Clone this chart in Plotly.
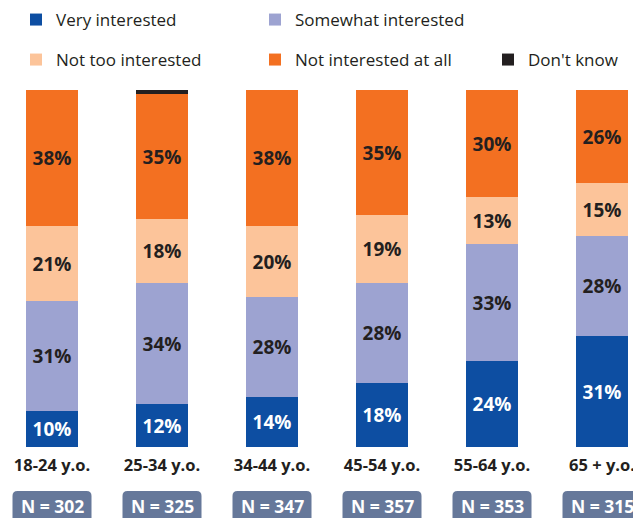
import plotly.graph_objects as go

categories = ["18-24 y.o.", "25-34 y.o.", "34-44 y.o.", "45-54 y.o.", "55-64 y.o.", "65 + y.o."]
sample_sizes = [302, 325, 347, 357, 353, 315]
very_interested = [10, 12, 14, 18, 24, 31]
somewhat_interested = [31, 34, 28, 28, 33, 28]
not_too_interested = [21, 18, 20, 19, 13, 15]
not_interested_at_all = [38, 35, 38, 35, 30, 26]
dont_know = [0, 1, 0, 0, 0, 0]

FONT = "Open Sans"
DARK = "#231F20"

series = [
    ("Very interested", very_interested, "#0D4EA2", "white", "legend"),
    ("Somewhat interested", somewhat_interested, "#9DA3D1", DARK, "legend"),
    ("Not too interested", not_too_interested, "#FCC49A", DARK, "legend2"),
    ("Not interested at all", not_interested_at_all, "#F37021", DARK, "legend2"),
    ("Don't know", dont_know, "#231F20", DARK, "legend3"),
]

fig = go.Figure()
for name, vals, color, tcolor, leg in series:
    show_text = name != "Don't know"
    fig.add_trace(go.Bar(
        x=categories, y=vals, name=name, legend=leg,
        marker=dict(color=color, line=dict(width=0)),
        width=0.47,
        text=[f"{v}%" for v in vals] if show_text else None,
        textposition="inside" if show_text else "none",
        insidetextanchor="middle",
        textangle=0,
        textfont=dict(family=FONT, size=19, color=tcolor, weight="bold"),
        hoverinfo="skip",
    ))

# N boxes (rounded rectangles) below the category labels
px_x = 110.0   # pixels per category unit
px_y = 357.0   # plot height in px
bw = 79 / px_x
y0, y1 = -44 / px_y, -90 / px_y
rx, ry = 5 / px_x, 5 / px_y
for i, n in enumerate(sample_sizes):
    xc = i
    xa, xb = xc - bw / 2, xc + bw / 2
    path = (f"M{xa+rx},{y0} L{xb-rx},{y0} Q{xb},{y0} {xb},{y0-ry} "
            f"L{xb},{y1} L{xa},{y1} L{xa},{y0-ry} Q{xa},{y0} {xa+rx},{y0} Z")
    fig.add_shape(type="path", path=path, xref="x", yref="paper",
                  fillcolor="#66789A", line=dict(width=0), layer="above")
    fig.add_annotation(x=xc, y=-59 / px_y, xref="x", yref="paper",
                       text=f"N = {n}", showarrow=False,
                       font=dict(family=FONT, size=17.5, color="white", weight="bold"),
                       xanchor="center", yanchor="middle")

legend_common = dict(
    orientation="h", xref="container", yref="container",
    xanchor="left", yanchor="middle",
    font=dict(family=FONT, size=17, color=DARK),
    entrywidth=194, entrywidthmode="pixels",
    bgcolor="rgba(0,0,0,0)", traceorder="normal",
    itemclick=False, itemdoubleclick=False,
)

fig.update_layout(
    width=641, height=518,
    margin=dict(l=0, r=0, t=82, b=79, autoexpand=False),
    barmode="stack",
    bargap=0,
    plot_bgcolor="white", paper_bgcolor="white",
    font=dict(family=FONT, color=DARK),
    xaxis=dict(
        range=[-44 / px_x, -44 / px_x + 641 / px_x],
        showgrid=False, zeroline=False, showline=False, ticks="",
        tickfont=dict(family=FONT, size=16.5, color=DARK, weight="bold"),
        ticklabelstandoff=6,
    ),
    yaxis=dict(range=[0, 100], visible=False),
    legend=dict(x=8 / 641, y=1 - 12 / 518, **legend_common),
    legend2=dict(x=8 / 641, y=1 - 52 / 518, **legend_common),
    legend3=dict(x=480 / 641, y=1 - 52 / 518, **legend_common),
    uniformtext=dict(mode=False),
    showlegend=True,
)

fig.write_html("out.html")
